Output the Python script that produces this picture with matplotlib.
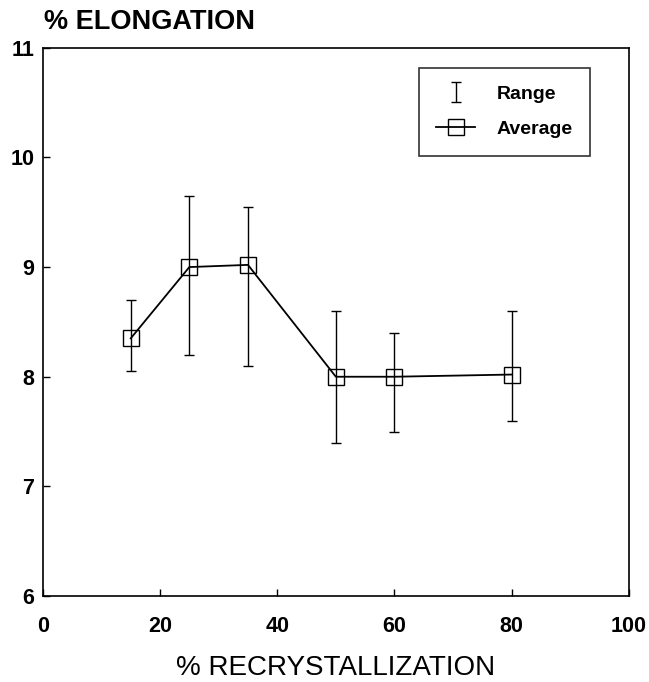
import numpy as np
import matplotlib.pyplot as plt

plt.rcParams['font.family'] = 'Liberation Sans'

# data
recryst = [15, 25, 35, 50, 60, 80]
elong_avg = [8.35, 9.0, 9.02, 8.0, 8.0, 8.02]
elong_min = [8.05, 8.2, 8.1, 7.4, 7.5, 7.6]
elong_max = [8.7, 9.65, 9.55, 8.6, 8.4, 8.6]

avg = np.array(elong_avg)
yerr = [avg - np.array(elong_min), np.array(elong_max) - avg]

fig = plt.figure(figsize=(6.49, 6.82), dpi=100)
ax = fig.add_axes([0.066, 0.126, 0.903, 0.804])

eb = ax.errorbar(recryst, elong_avg, yerr=yerr, fmt='none', ecolor='black',
                 elinewidth=1.0, capsize=3.5, capthick=1.0, label='Range')
ln, = ax.plot(recryst, elong_avg, color='black', lw=1.3, marker='s',
              markersize=11.5, mfc='none', mec='black', mew=1.0, label='Average')

ax.set_xlim(0, 100)
ax.set_ylim(6, 11)
ax.set_xticks(np.arange(0, 101, 20))
ax.set_yticks(np.arange(6, 12, 1))
ax.tick_params(direction='in', length=5, width=1, labelsize=15.5)
ax.tick_params(axis='x', pad=14)
ax.tick_params(axis='y', pad=6)
for lab in ax.get_xticklabels() + ax.get_yticklabels():
    lab.set_fontweight('bold')
for s in ax.spines.values():
    s.set_linewidth(1.2)

ax.set_xlabel('% RECRYSTALLIZATION', fontsize=20, labelpad=13)
fig.text(0.068, 0.948, '% ELONGATION', fontsize=19.5, fontweight='bold',
         ha='left', va='bottom')

leg = ax.legend([eb, ln], ['Range', 'Average'], loc='upper right',
                bbox_to_anchor=(0.944, 0.974), frameon=True, fancybox=False,
                edgecolor='black', fontsize=14, handlelength=2.0,
                borderpad=0.9, labelspacing=0.9, handletextpad=1.1,
                borderaxespad=0.3)
leg.get_frame().set_linewidth(1.2)
for t in leg.get_texts():
    t.set_fontweight('bold')

fig.savefig('out.png', dpi=100)
